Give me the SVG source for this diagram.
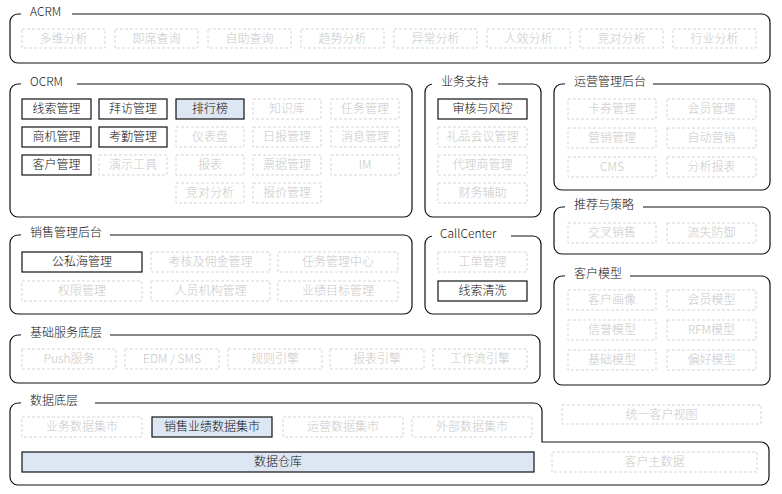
<svg xmlns="http://www.w3.org/2000/svg" width="782" height="494" viewBox="0 0 782 494">
<style>
text{font-family:"Microsoft YaHei","Noto Sans CJK SC","Noto Sans",sans-serif;font-size:12px;font-weight:300}
.frame{fill:none;stroke:#111;stroke-width:1.2}
.gap{fill:#fff}
.title{fill:#111}
.d rect{fill:#fff;stroke:#d5d5d5;stroke-width:1;stroke-dasharray:3 2}
.d text{fill:#c8c8c8;text-anchor:middle}
.s rect{fill:#fff;stroke:#111;stroke-width:1.2}
.s text{fill:#111;text-anchor:middle}
.h rect{fill:#dce7f3;stroke:#111;stroke-width:1.2}
.h text{fill:#111;text-anchor:middle}
</style>
<rect width="782" height="494" fill="#fff"/>

<g id="acrm">
<rect class="frame" x="10" y="14" width="760" height="49" rx="8"/>
<rect class="gap" x="21" y="8" width="51" height="12"/>
<text class="title" x="30" y="15.5">ACRM</text>
<g class="d"><rect x="22" y="29" width="83" height="19"/><text x="63.5" y="43">多维分析</text></g>
<g class="d"><rect x="115" y="29" width="83" height="19"/><text x="156.5" y="43">即席查询</text></g>
<g class="d"><rect x="208" y="29" width="83" height="19"/><text x="249.5" y="43">自助查询</text></g>
<g class="d"><rect x="301" y="29" width="83" height="19"/><text x="342.5" y="43">趋势分析</text></g>
<g class="d"><rect x="394" y="29" width="83" height="19"/><text x="435.5" y="43">异常分析</text></g>
<g class="d"><rect x="487" y="29" width="83" height="19"/><text x="528.5" y="43">人效分析</text></g>
<g class="d"><rect x="580" y="29" width="83" height="19"/><text x="621.5" y="43">竞对分析</text></g>
<g class="d"><rect x="673" y="29" width="83" height="19"/><text x="714.5" y="43">行业分析</text></g>
</g>

<g id="ocrm">
<rect class="frame" x="10" y="84" width="402" height="133" rx="8"/>
<rect class="gap" x="21" y="78" width="56" height="12"/>
<text class="title" x="30" y="85.5">OCRM</text>
<g class="s"><rect x="22" y="99" width="69" height="20"/><text x="56.5" y="113">线索管理</text></g>
<g class="s"><rect x="99" y="99" width="68" height="20"/><text x="133" y="113">拜访管理</text></g>
<g class="h"><rect x="176" y="99" width="68" height="20"/><text x="210" y="113">排行榜</text></g>
<g class="d"><rect x="253" y="99" width="68" height="20"/><text x="287" y="113">知识库</text></g>
<g class="d"><rect x="331" y="99" width="68" height="20"/><text x="365" y="113">任务管理</text></g>
<g class="s"><rect x="22" y="127" width="69" height="20"/><text x="56.5" y="141">商机管理</text></g>
<g class="s"><rect x="99" y="127" width="68" height="20"/><text x="133" y="141">考勤管理</text></g>
<g class="d"><rect x="176" y="127" width="68" height="20"/><text x="210" y="141">仪表盘</text></g>
<g class="d"><rect x="253" y="127" width="68" height="20"/><text x="287" y="141">日报管理</text></g>
<g class="d"><rect x="331" y="127" width="68" height="20"/><text x="365" y="141">消息管理</text></g>
<g class="s"><rect x="22" y="155" width="69" height="20"/><text x="56.5" y="169">客户管理</text></g>
<g class="d"><rect x="99" y="155" width="68" height="20"/><text x="133" y="169">演示工具</text></g>
<g class="d"><rect x="176" y="155" width="68" height="20"/><text x="210" y="169">报表</text></g>
<g class="d"><rect x="253" y="155" width="68" height="20"/><text x="287" y="169">票据管理</text></g>
<g class="d"><rect x="331" y="155" width="68" height="20"/><text x="365" y="169">IM</text></g>
<g class="d"><rect x="176" y="183" width="68" height="20"/><text x="210" y="197">竞对分析</text></g>
<g class="d"><rect x="253" y="183" width="68" height="20"/><text x="287" y="197">报价管理</text></g>
</g>

<g id="business-support">
<rect class="frame" x="425" y="84" width="116" height="133" rx="8"/>
<rect class="gap" x="432" y="78" width="66" height="12"/>
<text class="title" x="441" y="85.5">业务支持</text>
<g class="s"><rect x="438" y="99" width="89" height="20"/><text x="482.5" y="113">审核与风控</text></g>
<g class="d"><rect x="438" y="127" width="89" height="20"/><text x="482.5" y="141">礼品会议管理</text></g>
<g class="d"><rect x="438" y="155" width="89" height="20"/><text x="482.5" y="169">代理商管理</text></g>
<g class="d"><rect x="438" y="183" width="89" height="20"/><text x="482.5" y="197">财务辅助</text></g>
</g>

<g id="operations">
<rect class="frame" x="554" y="84" width="216" height="106" rx="8"/>
<rect class="gap" x="565" y="78" width="88" height="12"/>
<text class="title" x="574" y="85.5">运营管理后台</text>
<g class="d"><rect x="568" y="99" width="88" height="20"/><text x="612" y="113">卡券管理</text></g>
<g class="d"><rect x="667" y="99" width="89" height="20"/><text x="711.5" y="113">会员管理</text></g>
<g class="d"><rect x="568" y="128" width="88" height="20"/><text x="612" y="142">营销管理</text></g>
<g class="d"><rect x="667" y="128" width="89" height="20"/><text x="711.5" y="142">自动营销</text></g>
<g class="d"><rect x="568" y="157" width="88" height="20"/><text x="612" y="171">CMS</text></g>
<g class="d"><rect x="667" y="157" width="89" height="20"/><text x="711.5" y="171">分析报表</text></g>
</g>

<g id="recommend">
<rect class="frame" x="554" y="207" width="216" height="47" rx="8"/>
<rect class="gap" x="565" y="201" width="78" height="12"/>
<text class="title" x="574" y="208.5">推荐与策略</text>
<g class="d"><rect x="568" y="223" width="88" height="20"/><text x="612" y="237">交叉销售</text></g>
<g class="d"><rect x="667" y="223" width="89" height="20"/><text x="711.5" y="237">流失防御</text></g>
</g>

<g id="customer-model">
<rect class="frame" x="554" y="276" width="216" height="109" rx="8"/>
<rect class="gap" x="565" y="270" width="65" height="12"/>
<text class="title" x="574" y="277.5">客户模型</text>
<g class="d"><rect x="568" y="290" width="88" height="20"/><text x="612" y="304">客户画像</text></g>
<g class="d"><rect x="667" y="290" width="89" height="20"/><text x="711.5" y="304">会员模型</text></g>
<g class="d"><rect x="568" y="320" width="88" height="20"/><text x="612" y="334">信誉模型</text></g>
<g class="d"><rect x="667" y="320" width="89" height="20"/><text x="711.5" y="334">RFM模型</text></g>
<g class="d"><rect x="568" y="350" width="88" height="20"/><text x="612" y="364">基础模型</text></g>
<g class="d"><rect x="667" y="350" width="89" height="20"/><text x="711.5" y="364">偏好模型</text></g>
</g>

<g id="sales-admin">
<rect class="frame" x="10" y="235" width="402" height="79" rx="8"/>
<rect class="gap" x="21" y="229" width="89" height="12"/>
<text class="title" x="30" y="236.5">销售管理后台</text>
<g class="s"><rect x="22" y="252" width="120" height="20"/><text x="82" y="266">公私海管理</text></g>
<g class="d"><rect x="151" y="252" width="119" height="20"/><text x="210.5" y="266">考核及佣金管理</text></g>
<g class="d"><rect x="278" y="252" width="120" height="20"/><text x="338" y="266">任务管理中心</text></g>
<g class="d"><rect x="22" y="281" width="120" height="20"/><text x="82" y="295">权限管理</text></g>
<g class="d"><rect x="151" y="281" width="119" height="20"/><text x="210.5" y="295">人员机构管理</text></g>
<g class="d"><rect x="278" y="281" width="120" height="20"/><text x="338" y="295">业绩目标管理</text></g>
</g>

<g id="callcenter">
<rect class="frame" x="425" y="236" width="116" height="78" rx="8"/>
<rect class="gap" x="432" y="230" width="79" height="12"/>
<text class="title" x="440" y="237.5">CallCenter</text>
<g class="d"><rect x="438" y="252" width="89" height="20"/><text x="482.5" y="266">工单管理</text></g>
<g class="s"><rect x="438" y="281" width="89" height="20"/><text x="482.5" y="295">线索清洗</text></g>
</g>

<g id="base-services">
<rect class="frame" x="10" y="335" width="530" height="48" rx="8"/>
<rect class="gap" x="21" y="329" width="89" height="12"/>
<text class="title" x="30" y="336.5">基础服务底层</text>
<g class="d"><rect x="22" y="349" width="94" height="20"/><text x="69" y="363">Push服务</text></g>
<g class="d"><rect x="125" y="349" width="94" height="20"/><text x="172" y="363">EDM / SMS</text></g>
<g class="d"><rect x="228" y="349" width="94" height="20"/><text x="275" y="363">规则引擎</text></g>
<g class="d"><rect x="330" y="349" width="94" height="20"/><text x="377" y="363">报表引擎</text></g>
<g class="d"><rect x="433" y="349" width="94" height="20"/><text x="480" y="363">工作流引擎</text></g>
</g>

<g id="data-layer">
<path class="frame" d="M18,403 H534 A8,8 0 0 1 542,411 V442 H761 A8,8 0 0 1 769,450 V477 A8,8 0 0 1 761,485 H18 A8,8 0 0 1 10,477 V411 A8,8 0 0 1 18,403 Z"/>
<rect class="gap" x="21" y="397" width="74" height="12"/>
<text class="title" x="30" y="404.5">数据底层</text>
<g class="d"><rect x="22" y="417" width="120" height="20"/><text x="82" y="431">业务数据集市</text></g>
<g class="h"><rect x="152" y="417" width="120" height="20"/><text x="212" y="431">销售业绩数据集市</text></g>
<g class="d"><rect x="283" y="417" width="120" height="20"/><text x="343" y="431">运营数据集市</text></g>
<g class="d"><rect x="412" y="417" width="120" height="20"/><text x="472" y="431">外部数据集市</text></g>
<g class="h"><rect x="22" y="452" width="512" height="20"/><text x="278" y="466">数据仓库</text></g>
<g class="d"><rect x="552" y="452" width="205" height="20"/><text x="654.5" y="466">客户主数据</text></g>
</g>

<g id="unified-view">
<g class="d"><rect x="562" y="405" width="199" height="19"/><text x="661.5" y="419">统一客户视图</text></g>
</g>

<g id="connectors"></g>
</svg>
